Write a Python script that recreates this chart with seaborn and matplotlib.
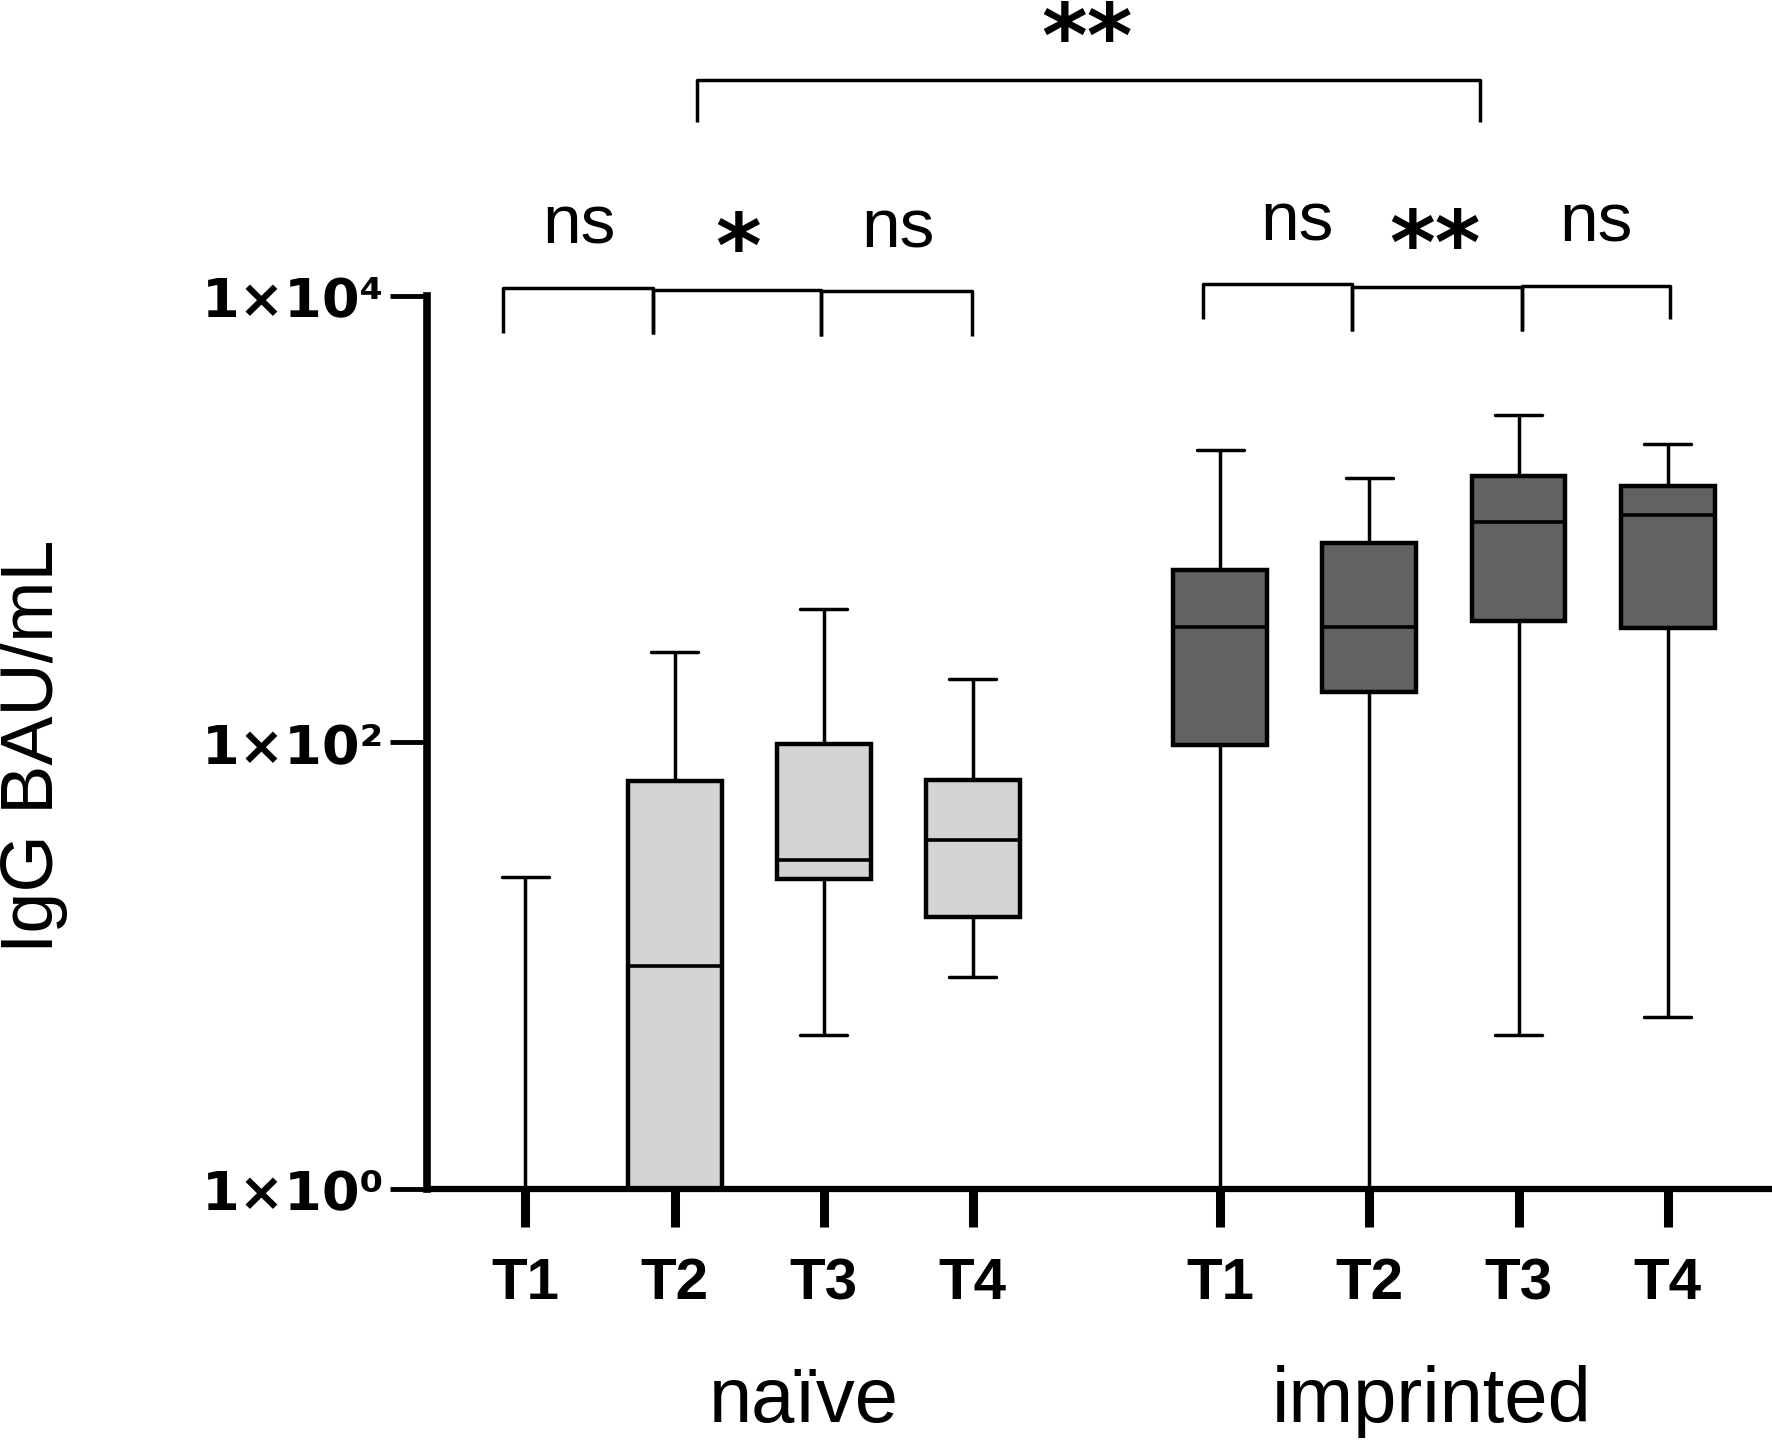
import numpy as np
import pandas as pd
import seaborn as sns
from matplotlib import pyplot as plt

# five-number summaries (min, q1, median, q3, max), BAU/mL
timepoints = ["T1", "T2", "T3", "T4"]
naive_min = [1, 1, 4.9, 8.9]
naive_q1 = [1, 1, 24.4, 16.6]
naive_med = [1, 10, 29.7, 36.7]
naive_q3 = [1, 67, 98, 68]
naive_max = [25, 254, 396, 192]

imp_min = [1, 1, 4.9, 5.9]
imp_q1 = [97, 169, 348, 325]
imp_med = [328, 328, 971, 1042]
imp_q3 = [589, 778, 1567, 1410]
imp_max = [2048, 1530, 2940, 2172]

groups = ["naïve", "imprinted"]
group_offset = [0.0, 4.66]
group_colors = ["#d4d4d4", "#626262"]

y_ticks = [1, 100, 10000]
y_ticklabels = ["1×10⁰", "1×10²", "1×10⁴"]


def long_table(mins, q1s, meds, q3s, maxs, offset):
    rows = []
    for i, tp in enumerate(timepoints):
        for v in (mins[i], q1s[i], meds[i], q3s[i], maxs[i]):
            rows.append({"pos": offset + i, "time": tp, "value": v})
    return pd.DataFrame(rows)


df_naive = long_table(naive_min, naive_q1, naive_med, naive_q3, naive_max, group_offset[0])
df_imp = long_table(imp_min, imp_q1, imp_med, imp_q3, imp_max, group_offset[1])

sns.set_style("ticks")
plt.rcParams["font.family"] = ["Liberation Sans", "DejaVu Sans"]
plt.rcParams["text.color"] = "black"
plt.rcParams["xtick.color"] = "black"
plt.rcParams["ytick.color"] = "black"
plt.rcParams["axes.labelcolor"] = "black"

fig = plt.figure(figsize=(17.72, 14.43), dpi=100)
ax = fig.add_axes([0.241, 0.176, 0.759, 0.619])
ax.set_yscale("log")

for df, col in zip([df_naive, df_imp], group_colors):
    sns.boxplot(
        data=df, x="pos", y="value", native_scale=True, width=0.63,
        whis=(0, 100), showfliers=False, color=col, saturation=1,
        linecolor="black", linewidth=2.5,
        boxprops=dict(linewidth=3.2), medianprops=dict(linewidth=2.6),
        ax=ax,
    )

ax.set_ylim(1, 10000)
ax.set_xlim(-0.66, 8.36)
ax.set_yticks(y_ticks)
ax.set_yticklabels(y_ticklabels, fontfamily="DejaVu Sans", fontweight="heavy", fontsize=39)
ax.yaxis.set_minor_locator(plt.NullLocator())
xpos = list(df_naive["pos"].unique()) + list(df_imp["pos"].unique())
ax.set_xticks(xpos)
ax.set_xticklabels(timepoints * 2, fontweight="bold", fontsize=42)
ax.xaxis.set_minor_locator(plt.NullLocator())
ax.tick_params(axis="x", length=27, width=6.5, pad=22, colors="black")
ax.tick_params(axis="y", length=27, width=3.5, pad=4, colors="black")
ax.set_xlabel("")
ax.set_ylabel("")
for s in ["top", "right"]:
    ax.spines[s].set_visible(False)
ax.spines["left"].set_linewidth(5.5)
ax.spines["bottom"].set_linewidth(4.5)
ax.spines["left"].set_color("black")
ax.spines["bottom"].set_color("black")

fig.text(0.019, 0.483, "IgG BAU/mL", rotation=90, ha="center", va="center", fontsize=53)
ax.text(1.87, 10 ** -0.95, groups[0], ha="center", va="center", fontsize=56, clip_on=False)
ax.text(6.08, 10 ** -0.95, groups[1], ha="center", va="center", fontsize=56, clip_on=False)

# significance brackets: (x1, x2, y_top, y_leg1, y_leg2) in log10 units
brackets = [
    (1.152, 6.402, 4.967, 4.780, 4.780),
    (-0.152, 0.856, 4.035, 3.833, 3.828),
    (0.856, 1.985, 4.025, 3.828, 3.818),
    (1.985, 2.992, 4.020, 3.818, 3.818),
    (4.545, 5.545, 4.051, 3.894, 3.843),
    (5.545, 6.682, 4.041, 3.843, 3.843),
    (6.682, 7.674, 4.046, 3.843, 3.894),
]
for x1, x2, yt, y1, y2 in brackets:
    ax.plot([x1, x1, x2, x2], [10 ** y1, 10 ** yt, 10 ** yt, 10 ** y2],
            color="black", lw=2.5, clip_on=False, solid_capstyle="butt")

labels = [
    (0.356, 4.314, "ns"), (2.5, 4.299, "ns"), (5.174, 4.329, "ns"), (7.18, 4.324, "ns"),
]
for x, y, t in labels:
    ax.text(x, 10 ** y, t, ha="center", va="center", fontsize=50, clip_on=False)
stars = [(1.424, 4.278, "*"), (6.098, 4.289, "**"), (3.765, 5.215, "**")]
for x, y, t in stars:
    ax.text(x, 10 ** (y - 0.08), t, ha="center", va="center", fontsize=63,
            fontfamily="DejaVu Sans", fontweight="bold", clip_on=False)

fig.savefig("out.png", dpi=100, facecolor="white")
